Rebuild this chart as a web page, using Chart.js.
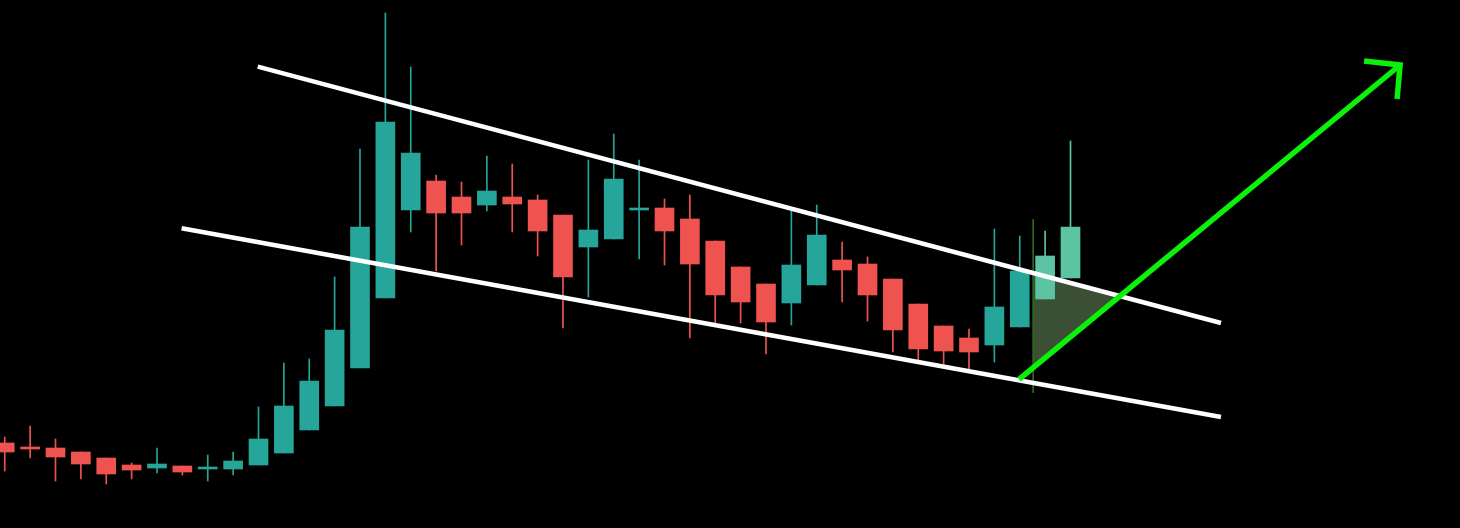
<!DOCTYPE html>
<html>
<head>
<meta charset="utf-8">
<script src="https://cdn.jsdelivr.net/npm/chart.js@4.4.0/dist/chart.umd.min.js"></script>
<style>
  html, body { margin: 0; padding: 0; background: #000; overflow: hidden; }
  canvas { display: block; background: #000; }
</style>
</head>
<body>
<canvas id="c" width="1460" height="528"></canvas>
<script>
// Candle data (index 0..42), arbitrary price units
const opens  = [85,81,80,76,70,63,60,62,59,59,63,75,98,122,160,230,318,347,331,323,331,328,313,281,289,318,320,309,287,261,244,225,243,268,264,249,224,202,190,183,201,229,250];
const highs  = [91,102,89,76,70,65,80,62,73,76,121,165,169,251,379,515,461,353,346,372,364,333,313,368,394,368,329,333,287,261,244,317,323,286,271,249,224,202,199,299,292,297,387];
const lows   = [57,70,47,49,44,49,55,53,47,53,63,75,98,122,160,230,296,257,283,317,296,272,200,231,289,269,263,190,205,205,174,203,243,226,207,176,168,164,159,166,201,229,250];
const closes = [76,79,71,64,54,58,64,56,61,67,89,122,147,198,301,406,375,315,315,337,324,297,251,298,349,320,297,264,233,226,206,263,293,258,233,198,179,177,176,221,257,272,301];
// indices of candles drawn in the lighter (highlighted) teal
const highlighted = [41, 42];

// Drawing tools (x = candle index, y = price)
const upperLine = [{x: 9.97, y: 461.3}, {x: 47.93, y: 205}];
const lowerLine = [{x: 6.97, y: 299.7}, {x: 47.93, y: 111}];
const arrowShaft = [{x: 39.97, y: 148.7}, {x: 54.99, y: 463}];
const arrowHead = [{x: 53.57, y: 467}, {x: 54.99, y: 463}, {x: 54.87, y: 429}];
const triangle = [{x: 40.53, y: 255.5}, {x: 43.97, y: 232.3}, {x: 40.53, y: 160.3}, {x: 40.53, y: 255.5}];
const markerLine = [{x: 40.53, y: 309}, {x: 40.53, y: 135}];

const UP = '#26a69a', DOWN = '#ef5350', LIGHT = '#5cc3a3';
const colors = opens.map((o, i) => highlighted.includes(i) ? LIGHT : (closes[i] >= o ? UP : DOWN));

const wickData = highs.map((h, i) => ({x: i, y: [lows[i], h]}));
const bodyData = opens.map((o, i) => ({x: i, y: [Math.min(o, closes[i]), Math.max(o, closes[i])]}));

const lineDs = (data, color, width, order, extra) => Object.assign({
  type: 'line', data, borderColor: color, borderWidth: width, pointRadius: 0,
  tension: 0, fill: false, order, borderCapStyle: 'butt', borderJoinStyle: 'miter'
}, extra || {});

const bgPlugin = {
  id: 'bg',
  beforeDraw(chart) {
    const ctx = chart.ctx;
    ctx.save(); ctx.fillStyle = '#000'; ctx.fillRect(0, 0, chart.width, chart.height); ctx.restore();
  }
};

new Chart(document.getElementById('c'), {
  type: 'bar',
  data: {
    datasets: [
      lineDs(triangle, 'rgba(0,0,0,0)', 0, 20, {fill: 'shape', backgroundColor: '#3a4f33'}),
      lineDs(markerLine, '#2d6a1f', 1, 19),
      {type: 'bar', data: wickData, backgroundColor: colors, barThickness: 1, grouped: false, order: 15, borderWidth: 0},
      {type: 'bar', data: bodyData, backgroundColor: colors, barThickness: 19, grouped: false, order: 14, borderWidth: 0, minBarLength: 2},
      lineDs(upperLine, '#ffffff', 4.5, 5),
      lineDs(lowerLine, '#ffffff', 4.5, 5),
      lineDs(arrowShaft, '#0af20a', 5.5, 1),
      lineDs(arrowHead, '#0af20a', 5.5, 1)
    ]
  },
  options: {
    responsive: false,
    animation: false,
    devicePixelRatio: 1,
    layout: {padding: 0},
    plugins: {legend: {display: false}, tooltip: {enabled: false}},
    scales: {
      x: {type: 'linear', min: -0.1872, max: 57.350, display: false, offset: false},
      y: {type: 'linear', min: 0, max: 528, display: false}
    }
  },
  plugins: [bgPlugin]
});
</script>
</body>
</html>
